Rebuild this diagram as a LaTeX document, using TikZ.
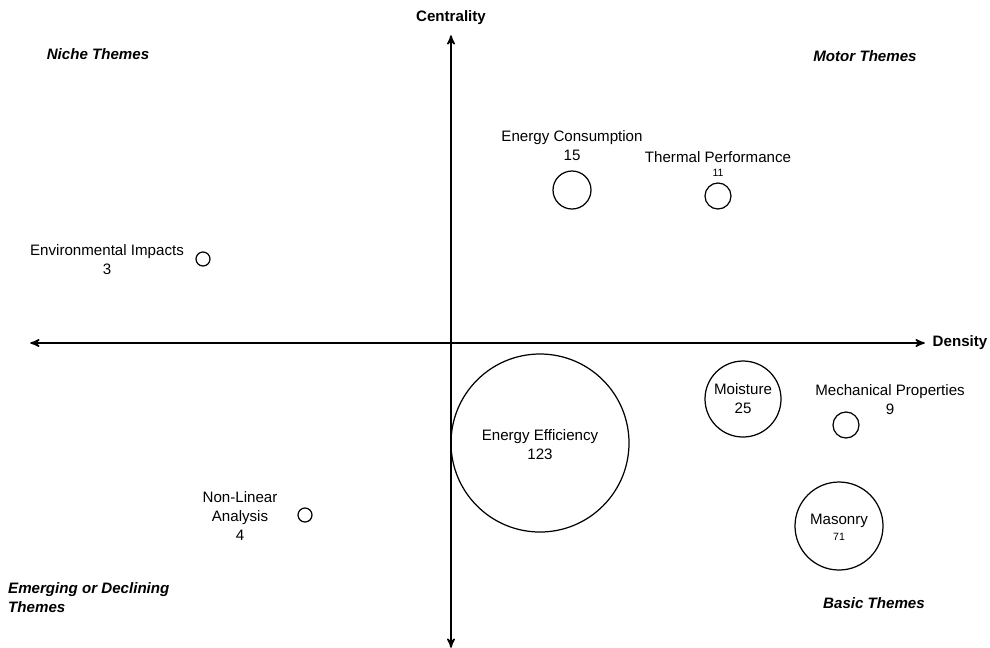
\documentclass[tikz,border=0pt]{standalone}
\usepackage{fontspec}
\setmainfont{Liberation Sans}
\usetikzlibrary{positioning,arrows}
\tikzset{
        >=stealth', % arrow heads of the two axes
        bubble/.style={draw, circle, line width=0.7pt, inner sep=0pt}, % one theme
        lbl/.style={align=center, font=\fontsize{8.6}{10.8}\selectfont}, % theme name and count
        num/.style={font=\fontsize{6}{7}\selectfont}, % small counts
        quad/.style={font=\fontsize{8.6}{10.8}\selectfont\bfseries\itshape}, % quadrant names
        axis/.style={<->, line width=0.9pt, shorten <=-1pt, shorten >=-1pt},
}
\begin{document}
\begin{tikzpicture}[x=0.02cm,y=-0.02cm]
\useasboundingbox (0,0) rectangle (990,647);
% axes
\coordinate (xl) at (32,343);
\coordinate (xr) at (923,343);
\coordinate (yt) at (451,37);
\coordinate (yb) at (451,646);
\draw[axis] (xl) -- (xr);
\draw[axis] (yb) -- (yt);
\node[lbl, font=\fontsize{8.6}{10.8}\selectfont\bfseries] (cent) at (451,18) {Centrality};
\node[lbl, font=\fontsize{8.6}{10.8}\selectfont\bfseries] (dens) at (960,343) {Density};

% bubbles
\foreach \n/\x/\y/\d in {ec/572/190/38, tp/718/196/26, ei/203/259/14, ee/540/443/178,
                         mo/743/399/76, mp/846/425/26, ma/839/526/88, nl/305/515/14}
  \node[bubble, minimum size=\d*0.02cm] (\n) at (\x,\y) {};

% labels
\node[lbl] (ecl) at (572,145.5) {Energy Consumption\\15};
\node[lbl] (tpl) at (718,157) {Thermal Performance};
\node[num] (tpn) at (718,173) {11};
\node[lbl] (eil) at (107,260) {Environmental Impacts\\3};
\node[lbl] (eel) at (540,445) {Energy Efficiency\\123};
\node[lbl] (mol) at (743,399) {Moisture\\25};
\node[lbl] (mpl) at (890,400) {Mechanical Properties\\9};
\node[lbl] (mal) at (839,521) {Masonry};
\node[num] (man) at (839,537) {71};
\node[lbl] (nll) at (240,516) {Non-Linear\\Analysis\\4};

% quadrants
\node[quad] (niche) at (98,54) {Niche Themes};
\node[quad] (motor) at (865,56) {Motor Themes};
\node[quad, align=left, anchor=west] (emerg) at (2,598) {Emerging or Declining\\Themes};
\node[quad] (basic) at (874,603) {Basic Themes};
\end{tikzpicture}
\end{document}
